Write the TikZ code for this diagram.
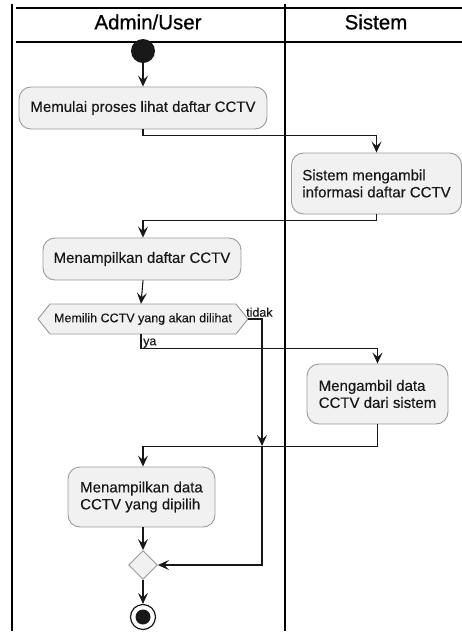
\documentclass[tikz,border=0pt]{standalone}
\usepackage{fontspec}
\setmainfont{Liberation Sans}
\newfontfamily\titlefont{Liberation Sans}[FakeBold=0.7]
\newfontfamily\bodyfont{Liberation Sans}[FakeBold=0.25]
\usetikzlibrary{arrows.meta,shapes.geometric}
\definecolor{boxfill}{HTML}{F1F1F1}
\definecolor{boxline}{HTML}{9A9A9A}
\definecolor{ink}{HTML}{181818}
\tikzset{
  act/.style={draw=boxline, fill=boxfill, rounded corners=12pt, line width=0.9pt,
    inner sep=0pt, font=\bodyfont\fontsize{15}{17}\selectfont, text=ink},
  lane/.style={line width=1.5pt, draw=black},
  arr/.style={draw=ink, line width=1.1pt, -{Stealth[length=11pt,width=10pt,inset=4.5pt]}},
  lbl/.style={font=\bodyfont\fontsize{12.5}{14}\selectfont, text=ink, inner sep=0pt},
  title/.style={font=\titlefont\fontsize{20.5}{22}\selectfont, text=black, inner sep=0pt},
}
\begin{document}
\begin{tikzpicture}[x=1pt,y=-1pt]
\useasboundingbox (0,0) rectangle (462,633);
% swimlanes
\draw[lane] (12,4) -- (12,631);
\draw[lane] (285,4) -- (285,631);
\draw[lane] (16,8) -- (462,8);
\draw[lane] (16,42) -- (462,42);
\node[title] (t1) at (148,22) {Admin/User};
\node[title] (t2) at (376,22) {Sistem};
% nodes
\node[circle, fill=ink, minimum size=24pt, inner sep=0pt] (start) at (143,51) {};
\node[act, minimum width=248pt, minimum height=42pt] (b1) at (143,108) {Memulai proses lihat daftar CCTV};
\node[act, minimum width=170pt, minimum height=61pt, align=left] (b2) at (376.5,183.5) {Sistem mengambil\\informasi daftar CCTV};
\node[act, minimum width=198pt, minimum height=42pt] (b3) at (142,259) {Menampilkan daftar CCTV};
% decision hexagon
\path[draw=boxline, fill=boxfill, line width=0.9pt] (38,319) -- (50,304) -- (236,304) -- (248,319) -- (236,334) -- (50,334) -- cycle;
\node[lbl, minimum width=210pt, minimum height=30pt] (d1) at (143,319) {Memilih CCTV yang akan dilihat};
\node[act, minimum width=141pt, minimum height=60pt, align=left] (b4) at (377.5,394) {Mengambil data\\CCTV dari sistem};
\node[act, minimum width=147pt, minimum height=60pt, align=left] (b5) at (141.5,497) {Menampilkan data\\CCTV yang dipilih};
\node[diamond, draw=boxline, fill=boxfill, line width=0.9pt, minimum width=29pt, minimum height=29pt, inner sep=0pt] (dm) at (143,565) {};
\node[circle, draw=ink, line width=1.2pt, minimum size=25pt, inner sep=0pt] (end) at (143,617) {};
\node[circle, fill=ink, minimum size=15pt, inner sep=0pt] (endin) at (143,617) {};
\coordinate (m) at (262,446);
% connectors
\draw[arr] (start) -- (b1.north);
\draw[arr] (b1.south) -- ++(0,6) -| (b2.north);
\draw[arr] (b2.south) -- ++(0,6) -| ([xshift=1pt]b3.north);
\draw[arr] ([xshift=1pt]b3.south) -- ([xshift=-2pt]d1.north);
\draw[arr] (d1.east) -| (m);
\draw[arr] (m) |- (dm.east);
\draw[arr] ([xshift=-2pt]d1.south) -- ++(0,14) -| (b4.north);
\draw[arr] (b4.south) -- ++(0,22) -| ([xshift=1.5pt]b5.north);
\draw[arr] ([xshift=1.5pt]b5.south) -- (dm.north);
\draw[arr] (dm.south) -- (end.north);
% labels
\node[lbl, anchor=south west] (tidak) at (246,317) {tidak};
\node[lbl, anchor=south west] (ya) at (143,348) {ya};
\end{tikzpicture}
\end{document}
